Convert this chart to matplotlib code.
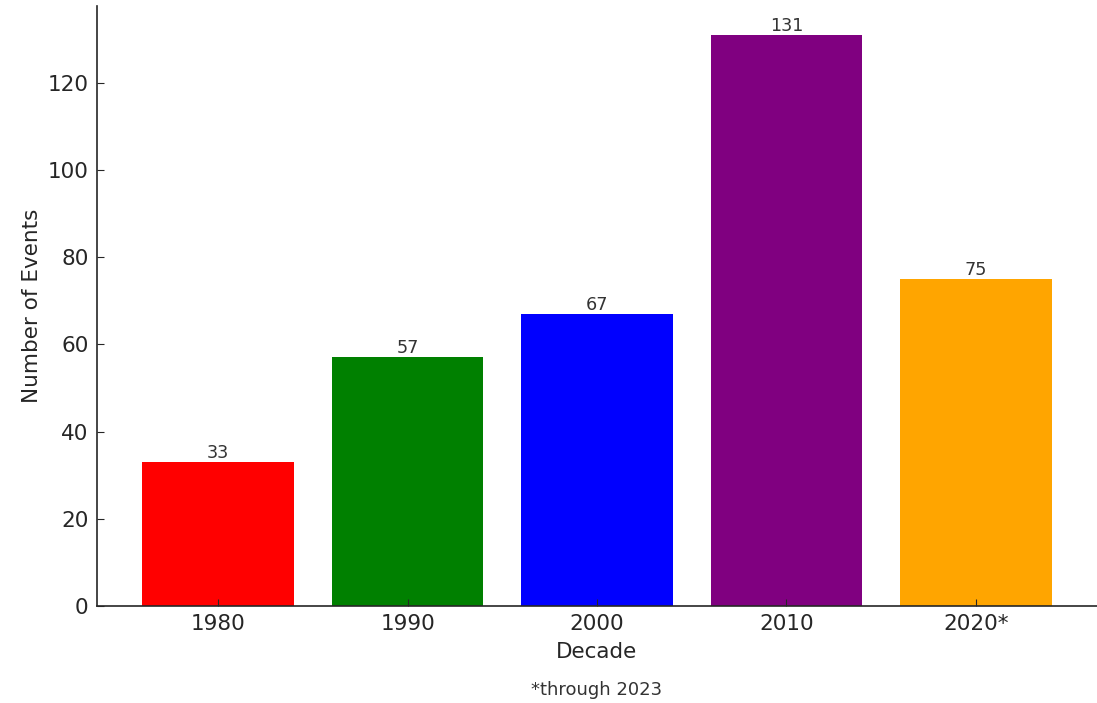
import matplotlib
matplotlib.use("Agg")
import matplotlib.pyplot as plt

decades = ["1980", "1990", "2000", "2010", "2020*"]
events = [33, 57, 67, 131, 75]
colors = ["red", "green", "blue", "purple", "orange"]
footnote = "*through 2023"

W, H = 1097, 703
fig = plt.figure(figsize=(W / 100, H / 100), dpi=100)
ax = fig.add_axes([97 / W, (H - 606) / H, (1097 - 97) / W, 600 / H])

text_c = "#262626"
x = list(range(len(decades)))
bars = ax.bar(x, events, color=colors, width=0.8)
ax.set_xticks(x)
ax.set_xticklabels(decades)

for xi, v in zip(x, events):
    ax.text(xi, v, str(v), ha="center", va="bottom", fontsize=12.7, color="#333333")

ax.set_xlabel("Decade", fontsize=15.5, color=text_c, labelpad=5.5)
ax.set_ylabel("Number of Events", fontsize=15.5, color=text_c, labelpad=4)
ax.tick_params(axis="both", direction="in", labelsize=15.5, colors=text_c, length=5)
ax.tick_params(axis="x", pad=6)
ax.tick_params(axis="y", pad=6)

ax.spines["top"].set_visible(False)
ax.spines["right"].set_visible(False)
for s in ("left", "bottom"):
    ax.spines[s].set_color(text_c)
    ax.spines[s].set_linewidth(1.2)

fig.text(597 / W, 1 - 690 / H, footnote, ha="center", va="center", fontsize=13, color="#333333")

fig.savefig("out.png", dpi=100)
